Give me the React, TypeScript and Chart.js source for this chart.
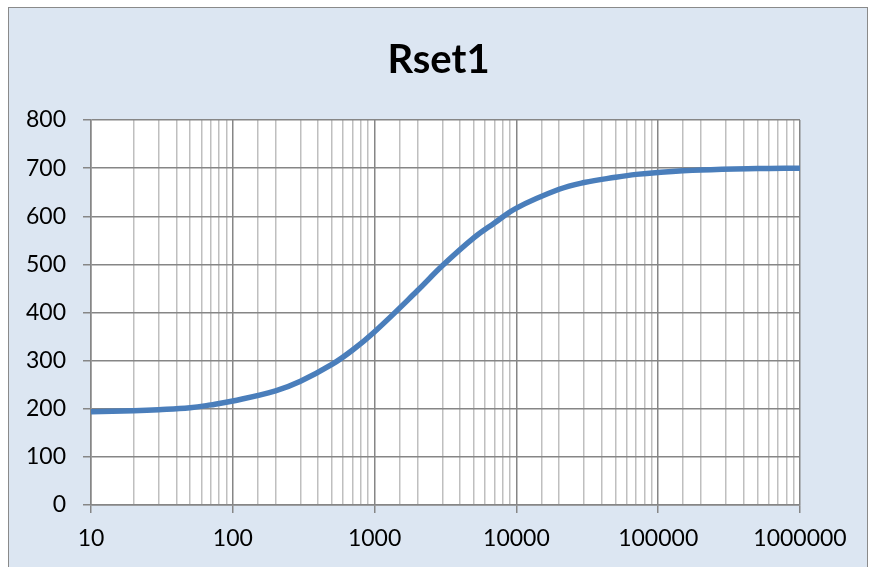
import React, { useEffect, useRef } from "react";
import { Chart, registerables } from "chart.js";

Chart.register(...registerables);

const TITLE = "Rset1";
const xValues = [10, 20, 30, 50, 70, 100, 200, 300, 500, 700, 1000, 2000, 3000, 5000, 7000, 10000, 20000, 30000, 50000, 70000, 100000, 200000, 500000, 1000000];
const yValues = [194, 196, 198, 202, 208, 216, 237, 257, 292, 322, 360, 445, 497, 555, 586, 617, 656, 670, 681, 687, 691, 696, 699, 700];
const xMin = 10;
const xMax = 1000000;
const yMin = 0;
const yMax = 800;
const yStep = 100;

const FONT = "Lato, 'Open Sans', sans-serif";
const MAJOR = "#868686";
const MINOR = "#BFBFBF";

function isDecade(v: number) {
  const l = Math.log10(v);
  return Math.abs(l - Math.round(l)) < 1e-9;
}

export default function App() {
  const ref = useRef<HTMLCanvasElement | null>(null);

  useEffect(() => {
    if (!ref.current) return;
    const plotBg = {
      id: "plotBg",
      beforeDraw(chart: any) {
        const { ctx, chartArea } = chart;
        ctx.save();
        ctx.fillStyle = "#ffffff";
        ctx.fillRect(chartArea.left, chartArea.top, chartArea.right - chartArea.left, chartArea.bottom - chartArea.top);
        ctx.restore();
      },
    };
    const chart = new Chart(ref.current, {
      type: "line",
      data: {
        datasets: [
          {
            label: TITLE,
            data: xValues.map((x, i) => ({ x, y: yValues[i] })),
            borderColor: "#4A7EBB",
            backgroundColor: "#4A7EBB",
            borderWidth: 5.5,
            pointRadius: 0,
            tension: 0.4,
            borderCapStyle: "butt",
          },
        ],
      },
      options: {
        responsive: false,
        animation: false,
        layout: { padding: 0 },
        plugins: {
          legend: { display: false },
          tooltip: { enabled: false },
          title: {
            display: true,
            text: TITLE,
            color: "#000",
            font: { family: FONT, size: 40, weight: "bold" },
            padding: { top: 36, bottom: 36 },
          },
        },
        scales: {
          x: {
            type: "logarithmic",
            min: xMin,
            max: xMax,
            grid: {
              color: (c: any) => (c.tick && isDecade(c.tick.value) ? MAJOR : MINOR),
              tickColor: (c: any) => (c.tick && isDecade(c.tick.value) ? MAJOR : "rgba(0,0,0,0)"),
              lineWidth: 1.5,
              tickLength: 8,
            },
            border: { color: MAJOR, width: 1.5 },
            ticks: {
              autoSkip: false,
              maxRotation: 0,
              color: "#000",
              padding: 12,
              font: { family: FONT, size: 23 },
              callback: (v: any) => (isDecade(Number(v)) ? String(Number(v)) : ""),
            },
            afterFit: (s: any) => {
              s.height = 62;
            },
          },
          y: {
            min: yMin,
            max: yMax,
            grid: { color: MAJOR, lineWidth: 1.5, tickLength: 8, tickColor: MAJOR },
            border: { color: MAJOR, width: 1.5 },
            ticks: {
              stepSize: yStep,
              color: "#000",
              padding: 17,
              font: { family: FONT, size: 23 },
            },
            afterFit: (s: any) => {
              s.width = 91;
            },
          },
          yRight: {
            position: "right",
            display: true,
            grid: { display: false, drawTicks: false },
            border: { display: false },
            ticks: { display: false },
            afterFit: (s: any) => {
              s.width = 77;
            },
          },
        },
      },
      plugins: [plotBg],
    } as any);
    return () => chart.destroy();
  }, []);

  return (
    <div style={{ position: "fixed", left: 0, top: 0, width: 877, height: 567, overflow: "hidden" }}>
      <div
        style={{
          position: "absolute",
          left: 8,
          top: 7,
          width: 860,
          height: 580,
          background: "#DCE6F2",
          border: "1.5px solid #8A8A8A",
          boxSizing: "border-box",
        }}
      />
      <canvas ref={ref} width={877} height={567} style={{ position: "absolute", left: 0, top: 0 }} />
    </div>
  );
}
